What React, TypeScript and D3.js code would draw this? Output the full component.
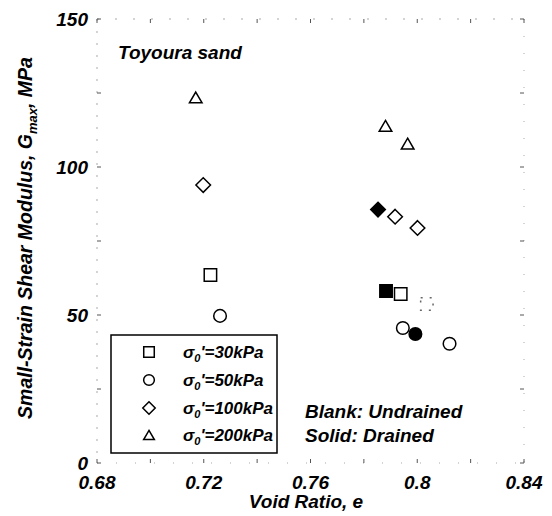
import React from "react";
import * as d3 from "d3";

// Toyoura sand: small-strain shear modulus vs void ratio
type Pt = { e: number; g: number };

const stressLevels = ["30", "50", "100", "200"]; // σ0' in kPa
const shapes = ["square", "circle", "diamond", "triangle"];

// Undrained tests (open markers), one array per confining stress
const undrained30: Pt[] = [
  { e: 0.7225, g: 63.5 },
  { e: 0.7938, g: 57.1 },
];
const undrained30Faint: Pt[] = [{ e: 0.8036, g: 53.7 }];
const undrained50: Pt[] = [
  { e: 0.7261, g: 49.7 },
  { e: 0.7946, g: 45.6 },
  { e: 0.8121, g: 40.3 },
];
const undrained100: Pt[] = [
  { e: 0.7198, g: 93.9 },
  { e: 0.7917, g: 83.2 },
  { e: 0.8001, g: 79.4 },
];
const undrained200: Pt[] = [
  { e: 0.717, g: 123.5 },
  { e: 0.7881, g: 113.9 },
  { e: 0.7964, g: 107.9 },
];

// Drained tests (solid markers)
const drained30: Pt[] = [{ e: 0.7883, g: 58.1 }];
const drained50: Pt[] = [{ e: 0.7993, g: 43.6 }];
const drained100: Pt[] = [{ e: 0.7853, g: 85.6 }];

const xTicks = [0.68, 0.72, 0.76, 0.8, 0.84];
const xTickLabels = ["0.68", "0.72", "0.76", "0.8", "0.84"];
const xMinorTicks = [0.68, 0.7, 0.72, 0.74, 0.76, 0.78, 0.8, 0.82, 0.84];
const yTicks = [0, 50, 100, 150];
const yMinorTicks = [0, 25, 50, 75, 100, 125, 150];

const W = 552;
const H = 516;
const FONT = "'Liberation Sans', Arial, sans-serif";

const x = d3.scaleLinear().domain([0.68, 0.84]).range([97, 524]);
const y = d3.scaleLinear().domain([0, 150]).range([463, 19]);

function markerPath(shape: string, cx: number, cy: number): string {
  const p = d3.path();
  if (shape === "square") {
    const h = 6.2;
    p.rect(cx - h, cy - h, 2 * h, 2 * h);
  } else if (shape === "circle") {
    p.arc(cx, cy, 6.3, 0, Math.PI * 2);
    p.closePath();
  } else if (shape === "diamond") {
    const h = 7.3;
    p.moveTo(cx, cy - h);
    p.lineTo(cx + h, cy);
    p.lineTo(cx, cy + h);
    p.lineTo(cx - h, cy);
    p.closePath();
  } else {
    const hw = 6.3;
    const hh = 5.4;
    p.moveTo(cx, cy - hh);
    p.lineTo(cx + hw, cy + hh);
    p.lineTo(cx - hw, cy + hh);
    p.closePath();
  }
  return p.toString();
}

function Marker({ shape, cx, cy, filled, dash, color = "#000", scale = 1 }: {
  shape: string; cx: number; cy: number; filled?: boolean; dash?: string; color?: string; scale?: number;
}) {
  return (
    <path
      d={markerPath(shape, 0, 0)}
      transform={`translate(${cx},${cy}) scale(${scale})`}
      fill={filled ? color : "#fff"}
      stroke={color}
      strokeWidth={1.5 / scale}
      strokeDasharray={dash}
    />
  );
}

export default function App() {
  const openSeries: [string, Pt[]][] = [
    ["square", undrained30],
    ["circle", undrained50],
    ["diamond", undrained100],
    ["triangle", undrained200],
  ];
  const solidSeries: [string, Pt[]][] = [
    ["square", drained30],
    ["circle", drained50],
    ["diamond", drained100],
  ];

  const legendX = 111;
  const legendY = 335;
  const legendW = 166;
  const legendH = 118;
  const rowY = [352, 380, 408, 435];

  return (
    <svg width={W} height={H} style={{ position: "absolute", left: 0, top: 0, background: "#fff" }}>
      {/* faint frame and ticks */}
      <g stroke="#aaa" strokeWidth={1}>
        <line x1={x(0.68)} x2={x(0.68)} y1={y(150)} y2={y(0)} strokeDasharray="2 10" />
        <line x1={x(0.84)} x2={x(0.84)} y1={y(150)} y2={y(0)} strokeDasharray="1 16" />
        <line x1={x(0.68)} x2={x(0.84)} y1={y(150)} y2={y(150)} strokeDasharray="2 16" />
        <line x1={x(0.68)} x2={x(0.84)} y1={y(0)} y2={y(0)} strokeDasharray="1 18" />
      </g>
      <g stroke="#555" strokeWidth={1}>
        {xMinorTicks.map((t) => (
          <g key={`xt${t}`}>
            <line x1={x(t)} x2={x(t)} y1={y(0)} y2={y(0) - 4} />
            <line x1={x(t)} x2={x(t)} y1={y(150)} y2={y(150) + 4} />
          </g>
        ))}
        {yMinorTicks.map((t) => (
          <g key={`yt${t}`}>
            <line x1={x(0.68)} x2={x(0.68) + 4} y1={y(t)} y2={y(t)} />
            <line x1={x(0.84)} x2={x(0.84) - 4} y1={y(t)} y2={y(t)} />
          </g>
        ))}
      </g>

      {/* tick labels */}
      <g fontFamily={FONT} fontWeight="bold" fontStyle="italic" fontSize={19} fill="#000">
        {xTicks.map((t, i) => (
          <text key={`xl${t}`} x={x(t)} y={489} textAnchor="middle">
            {xTickLabels[i]}
          </text>
        ))}
        {yTicks.map((t) => (
          <text key={`yl${t}`} x={88} y={y(t) + 7} textAnchor="end">
            {t}
          </text>
        ))}
      </g>

      {/* axis titles */}
      <text x={306} y={508} textAnchor="middle" fontFamily={FONT} fontWeight="bold" fontStyle="italic" fontSize={19}>
        Void Ratio, e
      </text>
      <text
        transform={`translate(32,238) rotate(-90)`}
        textAnchor="middle"
        fontFamily={FONT}
        fontWeight="bold"
        fontStyle="italic"
        fontSize={19.5}
      >
        Small-Strain Shear Modulus, G
        <tspan fontSize={13} dy={5}>max</tspan>
        <tspan dy={-5}>, MPa</tspan>
      </text>

      {/* annotations */}
      <g fontFamily={FONT} fontWeight="bold" fontStyle="italic" fontSize={19}>
        <text x={118} y={59}>Toyoura sand</text>
        <text x={305} y={418}>Blank: Undrained</text>
        <text x={305} y={442}>Solid: Drained</text>
      </g>

      {/* legend */}
      <rect x={legendX} y={legendY} width={legendW} height={legendH} fill="#fff" stroke="#000" strokeWidth={1.5} />
      {stressLevels.map((s, i) => (
        <g key={`lg${s}`}>
          <Marker shape={shapes[i]} cx={149} cy={rowY[i]} scale={0.85} />
          <text x={183} y={rowY[i] + 6} fontFamily={FONT} fontWeight="bold" fontStyle="italic" fontSize={17}>
            σ<tspan fontSize={11} dy={4}>0</tspan>
            <tspan dy={-4}>'={s}kPa</tspan>
          </text>
        </g>
      ))}

      {/* data markers */}
      {openSeries.map(([shape, pts]) =>
        pts.map((d, i) => <Marker key={`o${shape}${i}`} shape={shape} cx={x(d.e)} cy={y(d.g)} />)
      )}
      {undrained30Faint.map((d, i) => (
        <Marker key={`f${i}`} shape="square" cx={x(d.e)} cy={y(d.g)} dash="2 7" color="#666" />
      ))}
      {solidSeries.map(([shape, pts]) =>
        pts.map((d, i) => <Marker key={`s${shape}${i}`} shape={shape} cx={x(d.e)} cy={y(d.g)} filled />)
      )}
    </svg>
  );
}
